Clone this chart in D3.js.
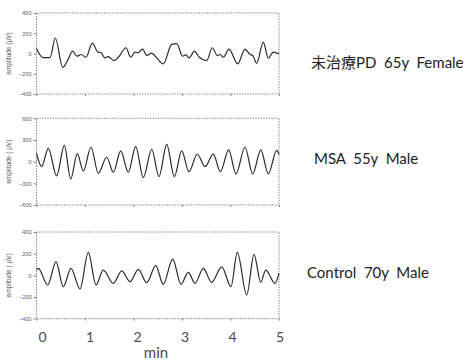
<!DOCTYPE html>
<html><head><meta charset="utf-8">
<script src="https://cdn.jsdelivr.net/npm/d3@7"></script>
<style>
html,body{margin:0;padding:0;background:#fff;}
svg{display:block;}
text{white-space:pre;}
</style></head>
<body><svg id="c" width="467" height="360"></svg>
<script>
// ---- data (time in min, amplitude in µV) ----
const pdTime = [0,0.134,0.278,0.388,0.540,0.649,0.746,0.835,0.918,1.021,1.151,1.268,1.324,1.412,1.474,1.604,1.701,1.845,1.942,2.031,2.093,2.190,2.272,2.375,2.478,2.614,2.788,2.891,3.014,3.076,3.151,3.254,3.357,3.509,3.625,3.728,3.784,3.852,3.969,4.148,4.299,4.402,4.458,4.540,4.676,4.779,4.882,5.0];
const pdAmp  = [50,-40,-40,153,-137,-60,23,-27,-10,-37,103,13,10,-43,-30,-70,-30,57,-37,13,7,43,-20,3,-43,-103,90,97,-27,-13,-43,23,-37,-70,57,-20,-10,-37,43,-103,43,-10,-20,-97,113,-47,13,-3];

const msaTime = [0,0.107,0.243,0.416,0.573,0.705,0.841,0.965,1.124,1.274,1.447,1.584,1.736,1.893,2.045,2.202,2.375,2.526,2.685,2.841,2.994,3.144,3.315,3.474,3.645,3.790,3.963,4.113,4.299,4.458,4.625,4.779,4.953,5.0];
const msaAmp  = [116,-69,185,-198,225,-239,110,-129,199,-160,61,-147,148,-147,207,-221,171,-207,240,-207,148,-138,106,-69,104,-138,162,-170,199,-170,162,-170,155,100];

const ctlTime = [0,0.037,0.231,0.402,0.553,0.711,0.897,1.068,1.227,1.377,1.584,1.757,1.928,2.099,2.272,2.458,2.614,2.808,2.979,3.130,3.268,3.439,3.612,3.819,4.010,4.140,4.334,4.485,4.623,4.726,4.918,5.0];
const ctlAmp  = [49,65,-89,125,-105,65,-126,212,-89,49,-74,42,-59,55,-68,89,-83,150,-83,28,-74,65,-65,79,-105,212,-182,194,-65,49,-74,20];

const pdTicks  = [400,200,0,-200,-400];
const msaTicks = [600,300,0,-300,-600];
const ctlTicks = [400,200,0,-200,-400];
const minTicks = [0,1,2,3,4,5];

const labels = ["未治療PD  65y  Female","MSA  55y  Male","Control  70y  Male"];
const yTitles = ["amplitude (μV)","amplitude ( μV)","amplitude ( μV)"];

// ---- layout ----
const svg = d3.select("#c");
const x = d3.scaleLinear().domain([0,5]).range([36.5,279]);
const xLab = d3.scaleLinear().domain([0,5]).range([42.5,280]);

const panels = [
  {t:pdTime, a:pdAmp, ticks:pdTicks, dom:[-400,400], top:13, bot:94, lab:labels[0], ly:68, lx:311, title:yTitles[0]},
  {t:msaTime, a:msaAmp, ticks:msaTicks, dom:[-600,600], top:118.3, bot:205, lab:labels[1], ly:164, lx:314, title:yTitles[1]},
  {t:ctlTime, a:ctlAmp, ticks:ctlTicks, dom:[-400,400], top:232, bot:318.7, lab:labels[2], ly:278, lx:307, title:yTitles[2]}
];

panels.forEach((p,i)=>{
  const y = d3.scaleLinear().domain(p.dom).range([p.bot,p.top]);
  const g = svg.append("g");
  // frame
  g.append("rect").attr("x",x(0)).attr("y",y(p.dom[1]))
    .attr("width",x(5)-x(0)).attr("height",y(p.dom[0])-y(p.dom[1]))
    .attr("fill","none").attr("stroke","#888").attr("stroke-width",1)
    .attr("stroke-dasharray","1.5,1.2");
  // y axis
  const ax = d3.axisLeft(y).tickValues(p.ticks).tickSize(3).tickPadding(2);
  const ga = g.append("g").attr("transform",`translate(${x(0)},0)`).call(ax);
  ga.select(".domain").remove();
  ga.selectAll("line").attr("stroke","#888");
  ga.selectAll("text").attr("font-family","Arial, 'Liberation Sans', sans-serif")
    .attr("font-size",5.5).attr("fill","#555");
  // bottom minute ticks
  const bx = d3.axisBottom(x).tickValues(minTicks).tickSize(2).tickFormat("");
  const gb = g.append("g").attr("transform",`translate(0,${y(p.dom[0])})`).call(bx);
  gb.select(".domain").remove();
  gb.selectAll("line").attr("stroke","#888");
  // y title
  g.append("text").attr("transform",`translate(11,${(p.top+p.bot)/2}) rotate(-90)`)
    .attr("text-anchor","middle").attr("font-family","Arial, 'Liberation Sans', sans-serif")
    .attr("font-size",6.5).attr("fill","#555").text(p.title);
  // line
  const data = p.t.map((t,k)=>[t,p.a[k]]);
  g.append("path").datum(data)
    .attr("d", d3.line().x(d=>x(d[0])).y(d=>y(d[1])).curve(d3.curveMonotoneX))
    .attr("fill","none").attr("stroke","#2a2a2a").attr("stroke-width",1.2);
  // right label
  svg.append("text").attr("x",p.lx).attr("y",p.ly)
    .attr("font-family","Lato, 'Noto Sans CJK JP', sans-serif")
    .attr("font-size",15).attr("fill","#222").text(p.lab);
});

// bottom minute labels
const gm = svg.append("g");
gm.selectAll("text.m").data(minTicks).enter().append("text")
  .attr("x",d=>xLab(d)).attr("y",342).attr("text-anchor","middle")
  .attr("font-family","Lato, 'Open Sans', sans-serif").attr("font-size",14).attr("fill","#4a4a4a")
  .text(d=>d);
gm.append("text").attr("x",156).attr("y",358).attr("text-anchor","middle")
  .attr("font-family","Lato, 'Open Sans', sans-serif").attr("font-size",15).attr("fill","#4a4a4a")
  .text("min");
</script></body></html>
